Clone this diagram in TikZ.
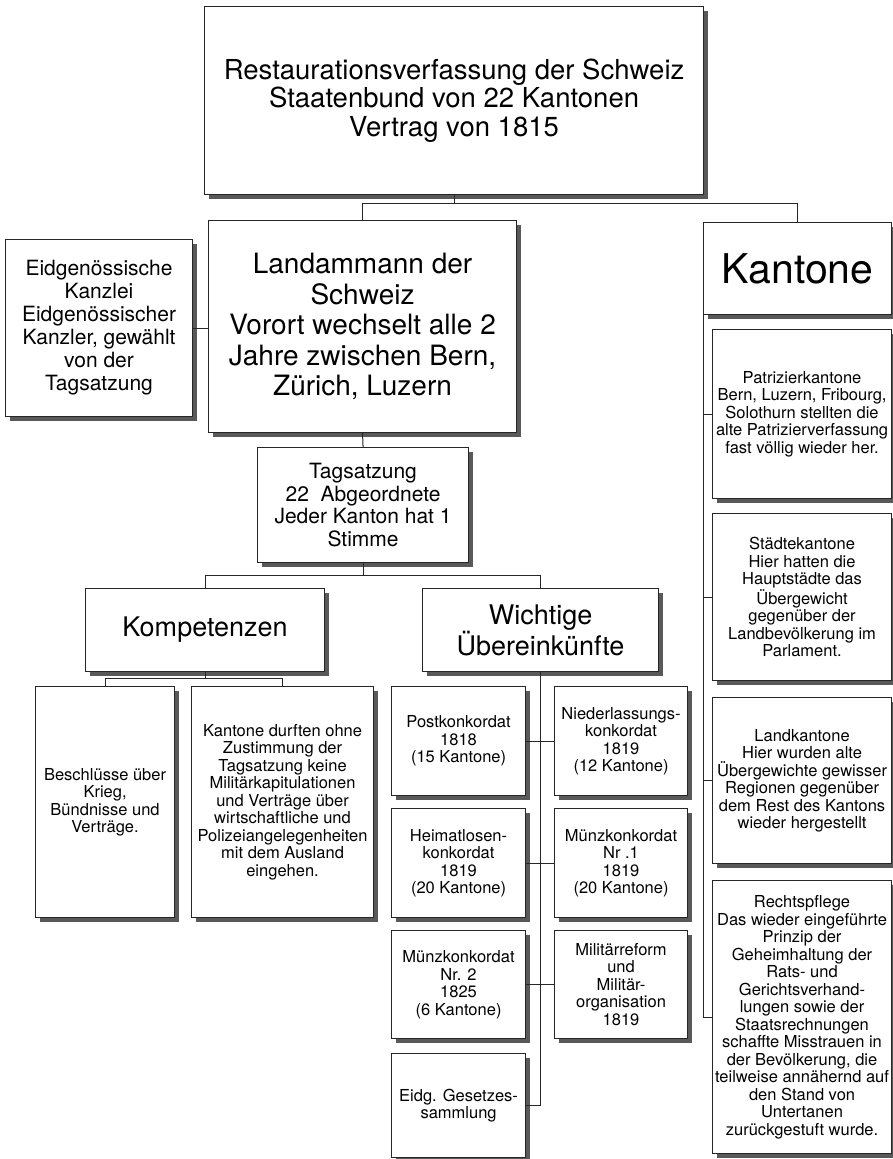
\documentclass[tikz,border=0pt]{standalone}
\usepackage{fontspec}
\setmainfont{TeX Gyre Heros}
\usetikzlibrary{shadows}
\tikzset{
  box/.style={draw=black!85, line width=1.1pt, fill=white, anchor=north west, inner sep=0pt, align=center,
    drop shadow={shadow xshift=4pt, shadow yshift=-4pt, fill=black!65, opacity=1}},
  conn/.style={draw=black!85, line width=1pt},
  fsmall/.style={font=\fontsize{16.5}{17.5}\selectfont},
}
\begin{document}
\begin{tikzpicture}[x=1pt,y=-1pt]
\useasboundingbox[fill=white] (0,0) rectangle (893,1159);
% top
\node[box, minimum width=499pt, minimum height=188pt, font=\fontsize{27.5}{28.5}\selectfont] (top) at (204,6)
  {Restaurationsverfassung der Schweiz\\Staatenbund von 22 Kantonen\\Vertrag von 1815};
% second row
\node[box, minimum width=187pt, minimum height=177pt, font=\fontsize{21}{23}\selectfont] (kanz) at (5,239)
  {Eidgenössische\\Kanzlei\\Eidgenössischer\\Kanzler, gewählt\\von der\\Tagsatzung};
\node[box, minimum width=308pt, minimum height=212pt, font=\fontsize{28}{30.5}\selectfont] (land) at (208,220)
  {Landammann der\\Schweiz\\Vorort wechselt alle 2\\Jahre zwischen Bern,\\Zürich, Luzern};
\node[box, minimum width=188pt, minimum height=92pt, font=\fontsize{41}{44}\selectfont] (kant) at (703,222)
  {Kantone};
% Tagsatzung
\node[box, minimum width=211pt, minimum height=115pt, font=\fontsize{21}{22.5}\selectfont] (tag) at (257,447)
  {Tagsatzung\\22~~Abgeordnete\\Jeder Kanton hat 1\\Stimme};
% Kompetenzen / Wichtige
\node[box, minimum width=239pt, minimum height=83pt, font=\fontsize{27}{31}\selectfont] (komp) at (85,588)
  {Kompetenzen};
\node[box, minimum width=236pt, minimum height=83pt, font=\fontsize{27}{31}\selectfont] (wich) at (422,588)
  {Wichtige\\Übereinkünfte};
% Kompetenzen children
\node[box, fsmall, minimum width=139pt, minimum height=231pt] (besch) at (35,686)
  {Beschlüsse über\\Krieg,\\Bündnisse und\\Verträge.};
\node[box, fsmall, minimum width=182pt, minimum height=231pt] (kdurf) at (191,686)
  {Kantone durften ohne\\Zustimmung der\\Tagsatzung keine\\Militärkapitulationen\\und Verträge über\\wirtschaftliche und\\Polizeiangelegenheiten\\mit dem Ausland\\eingehen.};
% Übereinkünfte children
\node[box, fsmall, minimum width=134pt, minimum height=109pt] (post) at (391,686)
  {Postkonkordat\\1818\\(15 Kantone)};
\node[box, fsmall, minimum width=133pt, minimum height=109pt] (nied) at (554,686)
  {Niederlassungs-\\konkordat\\1819\\(12 Kantone)};
\node[box, fsmall, minimum width=134pt, minimum height=109pt] (heim) at (391,808)
  {Heimatlosen-\\konkordat\\1819\\(20 Kantone)};
\node[box, fsmall, minimum width=133pt, minimum height=109pt] (mnz1) at (554,808)
  {Münzkonkordat\\Nr .1\\1819\\(20 Kantone)};
\node[box, fsmall, minimum width=134pt, minimum height=108pt] (mnz2) at (391,930)
  {Münzkonkordat\\Nr. 2\\1825\\(6 Kantone)};
\node[box, fsmall, minimum width=133pt, minimum height=108pt] (milit) at (554,930)
  {Militärreform\\und\\Militär-\\organisation\\1819};
\node[box, fsmall, minimum width=134pt, minimum height=104pt] (gesetz) at (391,1053)
  {Eidg. Gesetzes-\\sammlung};
% Kantone children
\node[box, fsmall, minimum width=179pt, minimum height=169pt] (patr) at (712,329)
  {Patrizierkantone\\Bern, Luzern, Fribourg,\\Solothurn stellten die\\alte Patrizierverfassung\\fast völlig wieder her.};
\node[box, fsmall, minimum width=179pt, minimum height=167pt] (staedte) at (712,513)
  {Städtekantone\\Hier hatten die\\Hauptstädte das\\Übergewicht\\gegenüber der\\Landbevölkerung im\\Parlament.};
\node[box, fsmall, minimum width=179pt, minimum height=166pt] (landk) at (712,697)
  {Landkantone\\Hier wurden alte\\Übergewichte gewisser\\Regionen gegenüber\\dem Rest des Kantons\\wieder hergestellt};
\node[box, fsmall, minimum width=179pt, minimum height=273pt] (recht) at (712,880)
  {Rechtspflege\\Das wieder eingeführte\\Prinzip der\\Geheimhaltung der\\Rats- und\\Gerichtsverhand-\\lungen sowie der\\Staatsrechnungen\\schaffte Misstrauen in\\der Bevölkerung, die\\teilweise annähernd auf\\den Stand von\\Untertanen\\zurückgestuft wurde.};
% connectors
\coordinate (bar1) at (0,203);
\coordinate (bar2) at (0,575);
\coordinate (bar3) at (0,678);
\draw[conn] (top.south) -- (top.south |- bar1);
\draw[conn] (land.north) |- (kant.north |- bar1) -- (kant.north);
\draw[conn] (kanz.east) -- (kanz.east -| land.west);
\draw[conn] (land.south) -- (tag.north);
\draw[conn] (tag.south) -- (tag.south |- bar2);
\draw[conn] (komp.north) |- (wich.north |- bar2) -- (wich.north);
\draw[conn] (komp.south) -- (komp.south |- bar3);
\draw[conn] (besch.north) |- (kdurf.north |- bar3) -- (kdurf.north);
\draw[conn] (wich.south) -- (wich.south |- gesetz.east) -- (gesetz.east);
\draw[conn] (post.east) -- (nied.west);
\draw[conn] (heim.east) -- (mnz1.west);
\draw[conn] (mnz2.east) -- (milit.west);
\draw[conn] (kant.south west) -- (kant.south west |- recht.west) -- (recht.west);
\draw[conn] (patr.west) -- (patr.west -| kant.south west);
\draw[conn] (staedte.west) -- (staedte.west -| kant.south west);
\draw[conn] (landk.west) -- (landk.west -| kant.south west);
\end{tikzpicture}
\end{document}
